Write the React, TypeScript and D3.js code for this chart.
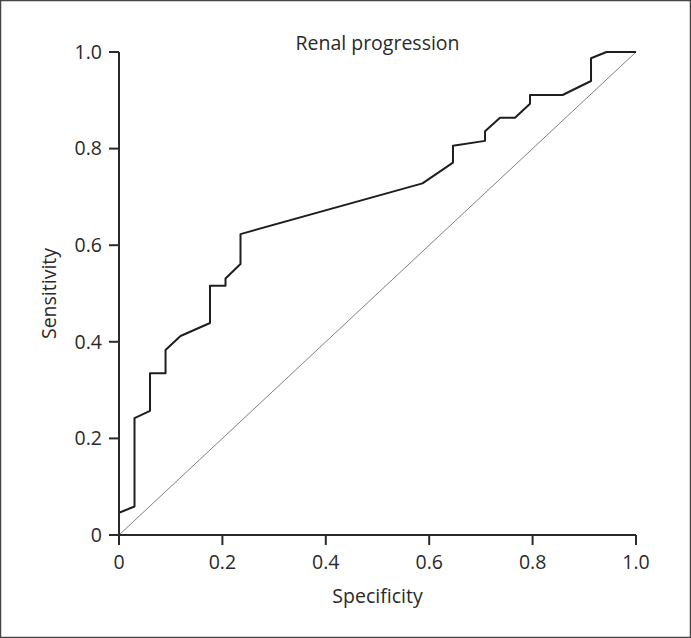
import * as d3 from 'd3'

const specificity = [
  0, 0, 0.03, 0.03, 0.06, 0.06, 0.09, 0.09, 0.119, 0.176, 0.176, 0.206, 0.206, 0.235, 0.235,
  0.587, 0.646, 0.646, 0.708, 0.708, 0.737, 0.766, 0.795, 0.795, 0.858, 0.913, 0.913, 0.943, 1.0,
]
const sensitivity = [
  0, 0.046, 0.059, 0.242, 0.257, 0.335, 0.335, 0.383, 0.412, 0.439, 0.516, 0.516, 0.531, 0.561, 0.623,
  0.728, 0.771, 0.806, 0.816, 0.836, 0.864, 0.864, 0.893, 0.911, 0.911, 0.94, 0.987, 1.0, 1.0,
]
const tickValues = [0, 0.2, 0.4, 0.6, 0.8, 1.0]
const tickLabels = ['0', '0.2', '0.4', '0.6', '0.8', '1.0']

const width = 691
const height = 638
const margin = { top: 52, right: 55, bottom: 103, left: 119 }
const font = '"Open Sans", "Noto Sans", sans-serif'

export default function App() {
  const x = d3.scaleLinear().domain([0, 1]).range([margin.left, width - margin.right])
  const y = d3.scaleLinear().domain([0, 1]).range([height - margin.bottom, margin.top])

  const points: [number, number][] = specificity.map((s, i) => [s, sensitivity[i]])
  const line = d3.line<[number, number]>()
    .x(d => x(d[0]))
    .y(d => y(d[1]))

  const x0 = x(0)
  const y0 = y(0)

  return (
    <svg width={width} height={height} style={{ position: 'absolute', left: 0, top: 0 }}>
      <rect x={0.5} y={0.5} width={width - 1} height={height - 1} fill="#fff" stroke="#444" strokeWidth={1.5} />

      {/* reference diagonal */}
      <line x1={x(0)} y1={y(0)} x2={x(1)} y2={y(1)} stroke="#808080" strokeWidth={1} />

      {/* ROC curve */}
      <path d={line(points) ?? ''} fill="none" stroke="#1e1e1e" strokeWidth={2} strokeLinejoin="round" />

      {/* axes */}
      <g stroke="#2a2a2a" strokeWidth={2} fill="none">
        <line x1={x0} y1={y(1)} x2={x0} y2={y0} />
        <line x1={x0} y1={y0} x2={x(1)} y2={y0} />
        {tickValues.map(t => (
          <line key={'xt' + t} x1={x(t)} y1={y0} x2={x(t)} y2={y0 + 10} />
        ))}
        {tickValues.map(t => (
          <line key={'yt' + t} x1={x0 - 10} y1={y(t)} x2={x0} y2={y(t)} />
        ))}
      </g>

      <g fontFamily={font} fontSize={19.5} fill="#2a2a2a">
        {tickValues.map((t, i) => (
          <text key={'xl' + t} x={x(t)} y={y0 + 34} textAnchor="middle">{tickLabels[i]}</text>
        ))}
        {tickValues.map((t, i) => (
          <text key={'yl' + t} x={x0 - 17} y={y(t)} dy="0.35em" textAnchor="end">{tickLabels[i]}</text>
        ))}
        <text x={(x(0) + x(1)) / 2} y={603} textAnchor="middle">Specificity</text>
        <text transform={`translate(56,${(y(0) + y(1)) / 2}) rotate(-90)`} textAnchor="middle">Sensitivity</text>
        <text x={(x(0) + x(1)) / 2} y={50} textAnchor="middle">Renal progression</text>
      </g>
    </svg>
  )
}
